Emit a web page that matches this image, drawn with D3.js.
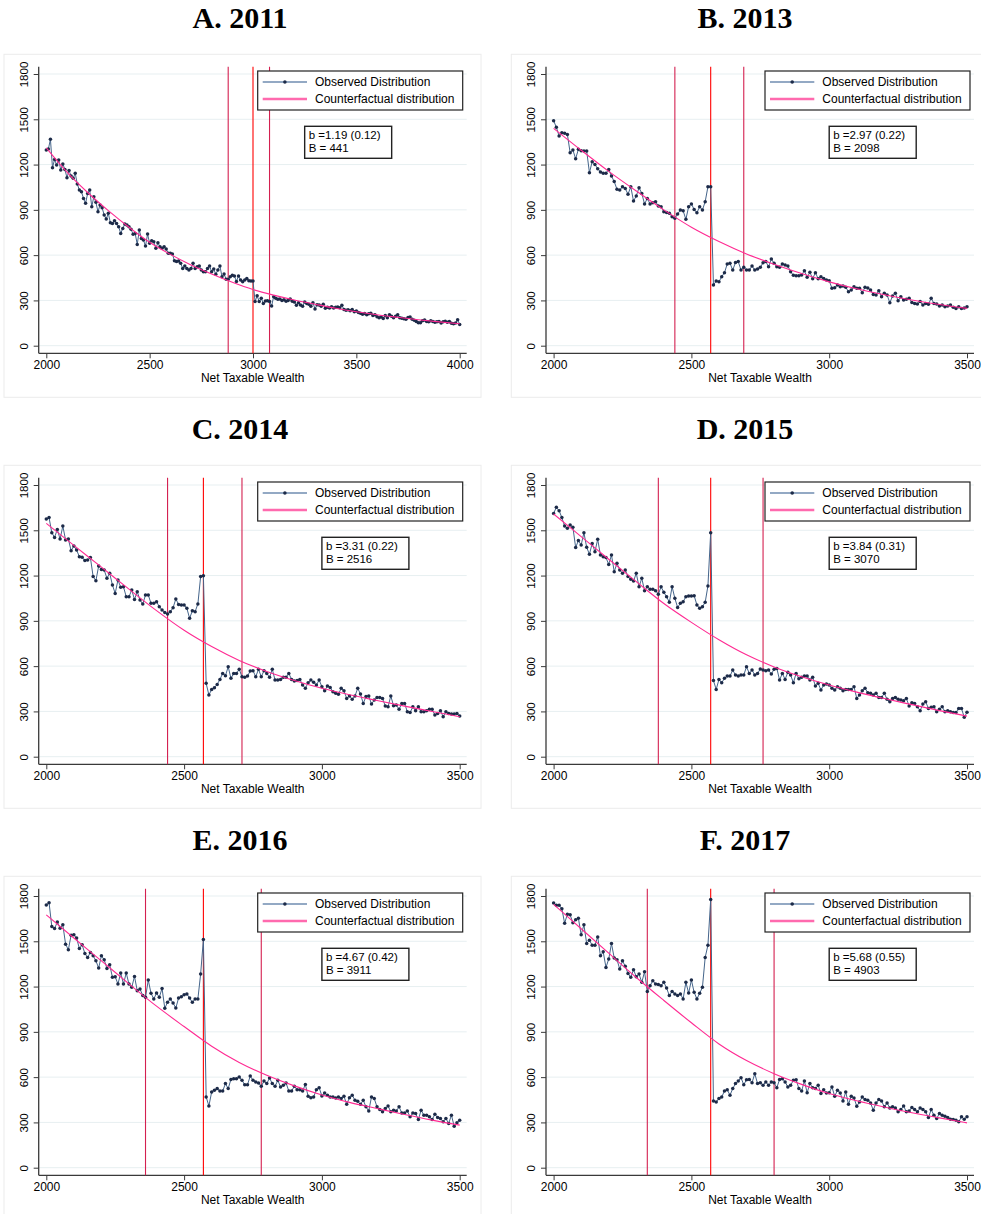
<!DOCTYPE html>
<html>
<head>
<meta charset="utf-8">
<script src="https://cdn.jsdelivr.net/npm/d3@7"></script>
<style>
  body { margin: 0; background: #fff; }
  svg { display: block; }
</style>
</head>
<body>
<svg id="chart" width="981" height="1214"></svg>
<script>
// ---- Panel labels and annotations ----
const panelTitles = ["A. 2011", "B. 2013", "C. 2014", "D. 2015", "E. 2016", "F. 2017"];
const coefText = ["b =1.19 (0.12)", "b =2.97 (0.22)", "b =3.31 (0.22)", "b =3.84 (0.31)", "b =4.67 (0.42)", "b =5.68 (0.55)"];
const bunchText = ["B = 441", "B = 2098", "B = 2516", "B = 3070", "B = 3911", "B = 4903"];
const xDomains = [[2000, 4000], [2000, 3500], [2000, 3500], [2000, 3500], [2000, 3500], [2000, 3500]];
const xTickValues = [
  [2000, 2500, 3000, 3500, 4000],
  [2000, 2500, 3000, 3500], [2000, 2500, 3000, 3500],
  [2000, 2500, 3000, 3500], [2000, 2500, 3000, 3500], [2000, 2500, 3000, 3500]
];
const yTickValues = [0, 300, 600, 900, 1200, 1500, 1800];
const xAxisTitle = "Net Taxable Wealth";
const legendLabels = ["Observed Distribution", "Counterfactual distribution"];

// Excluded window: lower bound, threshold, upper bound
const windowLines = [
  [2880, 3000, 3080],
  [2440, 2570, 2690],
  [2440, 2570, 2710],
  [2380, 2570, 2760],
  [2360, 2570, 2780],
  [2340, 2570, 2800]
];
// x (in wealth units) where the estimate box starts
const statBoxAt = [3250, 3000, 3000, 3000, 3000, 3000];

// Observed bin counts, bins of 10 starting at 2000 (one row = 100 units)
const obs2011 = [
  1296,1303,1367,1179,1234,1197,1230,1164,1204,1168,
  1113,1160,1124,1109,1142,1071,1031,1020,976,943,
  1009,1031,921,987,950,888,932,914,866,839,
  877,815,810,828,810,788,744,777,806,800,
  788,771,738,744,671,766,711,700,660,740,
  678,696,689,645,682,656,645,656,640,612,
  612,607,563,557,561,546,512,528,512,501,
  512,546,512,523,528,501,490,490,512,528,
  490,508,473,501,528,457,475,440,440,457,
  466,462,426,462,435,424,435,446,431,428,
  428,292,331,292,314,280,296,298,292,263,
  325,314,307,310,300,305,295,300,310,295,
  290,268,285,270,262,290,280,275,262,285,
  243,272,270,262,275,248,255,250,258,250,
  255,256,252,268,240,235,238,232,240,225,
  230,220,215,208,214,205,212,215,200,205,
  192,185,190,180,200,185,205,195,185,195,
  205,185,182,178,175,186,190,175,168,160,
  152,152,165,170,160,158,165,160,155,158,
  160,150,158,162,155,160,148,145,150,172,
  140
];
const obs2013 = [
  1491,1447,1389,1411,1407,1400,1279,1296,1239,1301,
  1292,1290,1290,1146,1219,1201,1173,1151,1142,1142,
  1168,1124,1087,1036,1031,1053,1042,1003,1053,958,
  992,1047,1009,939,976,939,947,954,925,921,
  888,883,877,855,844,872,899,894,837,921,
  939,903,881,921,899,954,1053,1053,402,428,
  424,457,484,541,546,501,552,557,501,519,
  501,501,528,501,508,519,550,557,523,574,
  546,523,519,541,534,528,490,466,464,464,
  468,497,453,486,444,484,444,457,446,435,
  431,380,384,402,391,395,387,358,369,391,
  380,380,351,387,382,369,340,336,364,325,
  347,336,285,329,347,298,325,303,307,314,
  287,280,276,292,269,280,274,314,280,276,
  263,269,258,263,269,254,247,258,247,250,
  258
];
const obs2014 = [
  1575,1584,1484,1453,1506,1442,1528,1436,1442,1365,
  1396,1369,1325,1321,1299,1303,1319,1193,1166,1263,
  1241,1237,1182,1215,1137,1082,1171,1122,1126,1060,
  1060,1104,1042,1093,1038,1012,1071,1071,1016,1016,
  1027,994,972,956,945,961,987,1045,1009,1005,
  1005,983,917,967,961,1012,1193,1199,486,409,
  446,457,479,512,552,537,596,519,552,552,
  579,530,526,534,568,570,530,579,530,570,
  552,526,579,508,508,512,526,526,552,512,
  501,504,512,475,453,490,508,493,475,508,
  464,437,468,459,431,420,413,453,437,386,
  402,380,402,453,415,353,398,402,349,375,
  393,393,386,336,331,402,338,342,314,353,
  353,298,292,331,305,331,298,298,305,314,
  314,276,287,305,265,298,287,283,283,287,
  269
];
const obs2015 = [
  1612,1652,1630,1584,1528,1513,1535,1520,1386,1432,
  1402,1484,1387,1341,1413,1358,1440,1336,1325,1319,
  1274,1336,1226,1281,1237,1215,1237,1193,1175,1164,
  1215,1126,1182,1100,1126,1109,1109,1100,1076,1126,
  1089,1060,1023,1126,1049,989,1016,1027,1060,1065,
  1065,1067,1005,983,994,1023,1131,1484,504,446,
  512,490,519,534,534,574,541,534,541,541,
  596,552,574,541,552,581,574,570,574,548,
  579,585,508,552,512,559,541,490,552,517,
  526,534,534,508,526,468,486,442,475,481,
  475,453,442,464,453,437,446,446,446,464,
  386,409,437,453,424,420,409,420,393,393,
  420,380,364,386,393,380,375,371,386,336,
  358,353,331,305,349,364,320,327,331,298,
  314,331,298,305,298,292,292,320,320,261,
  294
];
const obs2016 = [
  1741,1756,1598,1584,1628,1587,1609,1481,1444,1540,
  1543,1521,1452,1477,1419,1393,1426,1404,1371,1323,
  1404,1378,1320,1345,1261,1265,1217,1290,1217,1290,
  1217,1195,1267,1173,1184,1140,1129,1243,1155,1118,
  1157,1129,1188,1056,1096,1118,1091,1058,1124,1133,
  1146,1151,1124,1096,1118,1118,1283,1512,469,409,
  502,513,524,508,508,557,524,585,590,590,
  601,579,550,550,607,579,568,561,539,574,
  557,594,557,539,579,535,546,561,508,508,
  539,517,517,508,552,473,464,469,517,530,
  475,495,480,469,469,462,469,458,473,420,
  464,480,447,440,420,447,403,376,469,458,
  403,385,370,392,409,370,381,376,403,363,
  363,376,337,363,359,319,381,348,348,337,
  319,354,332,326,304,326,293,348,275,297,
  315
];
const obs2017 = [
  1754,1738,1738,1716,1620,1679,1675,1622,1642,1653,
  1543,1609,1485,1507,1474,1474,1529,1404,1430,1327,
  1382,1485,1389,1378,1316,1371,1334,1287,1261,1312,
  1265,1283,1228,1298,1168,1206,1239,1217,1213,1206,
  1228,1190,1140,1168,1151,1140,1151,1118,1228,1157,
  1243,1162,1118,1155,1195,1393,1474,1776,442,436,
  458,469,508,517,480,524,557,574,596,550,
  583,585,563,623,557,563,546,568,546,568,
  563,530,585,590,568,535,546,579,583,524,
  508,574,497,557,530,524,546,491,517,495,
  497,535,473,513,495,442,502,420,473,462,
  407,436,469,451,447,429,381,429,451,442,
  403,429,396,403,396,370,385,409,370,376,
  398,385,370,396,385,370,332,385,348,326,
  359,348,341,332,321,319,315,304,337,321,
  337
];

// Counterfactual (fitted) density, read every 100 units from 2000
const cf2011 = [1310,1150,1015,895,785,685,605,535,475,420,372,335,303,275,248,225,205,188,172,158,145];
const cf2013 = [1440,1295,1155,1025,900,785,690,608,540,478,423,377,338,303,273,247];
const cf2014 = [1546,1400,1256,1110,968,838,730,638,565,505,453,410,372,335,300,265];
const cf2015 = [1608,1458,1308,1160,1015,890,775,675,595,530,475,428,385,345,305,269];
const cf2016 = [1675,1522,1370,1218,1070,935,805,697,612,542,482,433,392,352,315,282];
const cf2017 = [1745,1583,1421,1260,1108,960,820,710,623,552,491,443,402,364,330,297];

const binStart = 2000, binWidth = 10, cfStep = 100;
const observed = [obs2011, obs2013, obs2014, obs2015, obs2016, obs2017];
const counterfactual = [cf2011, cf2013, cf2014, cf2015, cf2016, cf2017];

// ---- Drawing ----
const svg = d3.select("#chart");
const sans = "'Liberation Sans', Arial, Helvetica, sans-serif";
const serif = "'Liberation Serif', 'Times New Roman', serif";
const colOffset = [0, 507.3];
const rowOffset = [0, 411, 822];
const colors = {
  axis: "#3a3a3a", grid: "#e7eff1", obsLine: "#45658b", obsDot: "#1c2a48",
  cf: "#ff2a92", cfLegend: "#ff6aae", bound: "#d42050", threshold: "#ff0000",
  frame: "#ececec"
};

panelTitles.forEach((title, i) => {
  const col = i % 2, row = Math.floor(i / 2);
  const ox = colOffset[col], oy = rowOffset[row];
  const g = svg.append("g");

  const axisX = 38.7 + ox, rightX = 466.7 + ox;
  const topY = 66.7 + oy, axisY = 353.3 + oy;
  const x = d3.scaleLinear().domain(xDomains[i]).range([46.3 + ox, 459.7 + ox]);
  const y = d3.scaleLinear().domain([0, 1800]).range([345.7 + oy, 74 + oy]);

  // faint outer frame of the graph region
  g.append("rect").attr("x", ox + 4).attr("y", oy + 54.3).attr("width", 477).attr("height", 343)
    .attr("fill", "none").attr("stroke", colors.frame).attr("stroke-width", 1);

  // title
  g.append("text").attr("x", col === 0 ? 240 : 745).attr("y", 27.7 + oy)
    .attr("text-anchor", "middle").attr("font-family", serif).attr("font-weight", "bold")
    .attr("font-size", 30).attr("fill", "#000").text(title);

  // horizontal grid
  g.append("g").selectAll("line").data(yTickValues).join("line")
    .attr("x1", axisX).attr("x2", rightX)
    .attr("y1", d => y(d)).attr("y2", d => y(d))
    .attr("stroke", colors.grid).attr("stroke-width", 1);

  // y axis
  const yAxis = g.append("g").attr("transform", `translate(${axisX},0)`)
    .call(d3.axisLeft(y).tickValues(yTickValues).tickSize(5).tickFormat(d3.format("d")));
  yAxis.select(".domain").remove();
  yAxis.selectAll(".tick line").attr("stroke", colors.axis);
  yAxis.selectAll(".tick text")
    .attr("transform", "rotate(-90)").attr("x", 0).attr("y", -11).attr("dy", 0)
    .attr("text-anchor", "middle").attr("font-family", sans).attr("font-size", 11.5).attr("fill", "#000");
  g.append("line").attr("x1", axisX).attr("x2", axisX).attr("y1", topY).attr("y2", axisY)
    .attr("stroke", colors.axis).attr("stroke-width", 1.3);

  // x axis
  const xAxis = g.append("g").attr("transform", `translate(0,${axisY})`)
    .call(d3.axisBottom(x).tickValues(xTickValues[i]).tickSize(5).tickPadding(2).tickFormat(d3.format("d")));
  xAxis.select(".domain").remove();
  xAxis.selectAll(".tick line").attr("stroke", colors.axis);
  xAxis.selectAll(".tick text").attr("font-family", sans).attr("font-size", 12).attr("fill", "#000");
  g.append("line").attr("x1", axisX).attr("x2", rightX).attr("y1", axisY).attr("y2", axisY)
    .attr("stroke", colors.axis).attr("stroke-width", 1.3);
  g.append("text").attr("x", (axisX + rightX) / 2).attr("y", 381.7 + oy)
    .attr("text-anchor", "middle").attr("font-family", sans).attr("font-size", 12).attr("fill", "#000")
    .text(xAxisTitle);

  // window lines
  g.append("g").selectAll("line").data(windowLines[i]).join("line")
    .attr("x1", d => x(d)).attr("x2", d => x(d)).attr("y1", topY).attr("y2", axisY)
    .attr("stroke", (d, k) => k === 1 ? colors.threshold : colors.bound)
    .attr("stroke-width", 1.1);

  // observed distribution
  const obs = observed[i].map((v, k) => ({ w: binStart + k * binWidth, v }));
  g.append("path").datum(obs)
    .attr("d", d3.line().x(d => x(d.w)).y(d => y(d.v)))
    .attr("fill", "none").attr("stroke", colors.obsLine).attr("stroke-width", 1);
  g.append("g").selectAll("circle").data(obs).join("circle")
    .attr("cx", d => x(d.w)).attr("cy", d => y(d.v)).attr("r", 1.75)
    .attr("fill", colors.obsDot);

  // counterfactual distribution
  const cf = counterfactual[i].map((v, k) => ({ w: binStart + k * cfStep, v }));
  g.append("path").datum(cf)
    .attr("d", d3.line().curve(d3.curveMonotoneX).x(d => x(d.w)).y(d => y(d.v)))
    .attr("fill", "none").attr("stroke", colors.cf).attr("stroke-width", 1.1);

  // legend
  const lx = rightX - 209, ly = topY + 4.3;
  const lg = g.append("g");
  lg.append("rect").attr("x", lx).attr("y", ly).attr("width", 205).attr("height", 39)
    .attr("fill", "#fff").attr("stroke", "#222").attr("stroke-width", 1.2);
  const r1 = ly + 11, r2 = ly + 28;
  lg.append("line").attr("x1", lx + 5).attr("x2", lx + 49.3).attr("y1", r1).attr("y2", r1)
    .attr("stroke", "#6f8db0").attr("stroke-width", 1.6);
  lg.append("circle").attr("cx", lx + 27.2).attr("cy", r1).attr("r", 1.8).attr("fill", colors.obsDot);
  lg.append("line").attr("x1", lx + 5).attr("x2", lx + 49.3).attr("y1", r2).attr("y2", r2)
    .attr("stroke", colors.cfLegend).attr("stroke-width", 2.4);
  lg.selectAll("text").data(legendLabels).join("text")
    .attr("x", lx + 57.3).attr("y", (d, k) => (k === 0 ? r1 : r2) + 4.3)
    .attr("font-family", sans).attr("font-size", 12).attr("fill", "#000").text(d => d);

  // estimate box
  const bx = x(statBoxAt[i]), by = topY + 59.6;
  g.append("rect").attr("x", bx).attr("y", by).attr("width", 87).attr("height", 32)
    .attr("fill", "#fff").attr("stroke", "#222").attr("stroke-width", 1.4);
  g.append("text").attr("x", bx + 4).attr("y", by + 12.2).attr("font-family", sans)
    .attr("font-size", 11.5).attr("fill", "#000").text(coefText[i]);
  g.append("text").attr("x", bx + 4).attr("y", by + 25.5).attr("font-family", sans)
    .attr("font-size", 11.5).attr("fill", "#000").text(bunchText[i]);
});
</script>
</body>
</html>
